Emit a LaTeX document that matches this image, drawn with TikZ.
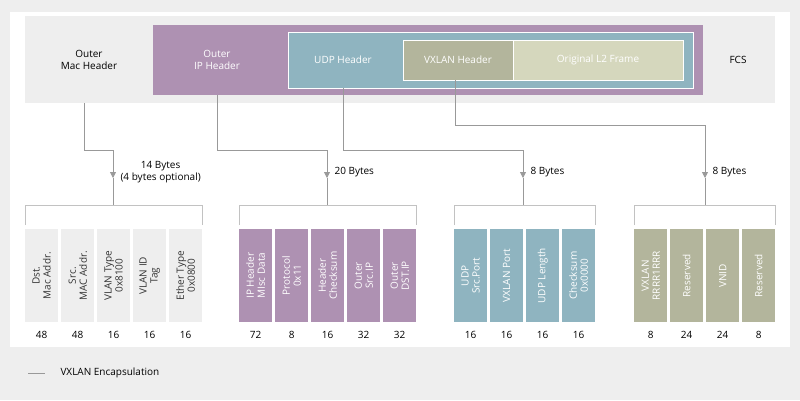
\documentclass[tikz,border=0pt]{standalone}
\usepackage{fontspec}
\setmainfont{Open Sans}
\usetikzlibrary{positioning,arrows.meta}
\definecolor{bggray}{HTML}{EEEEEE}
\definecolor{ippurple}{HTML}{AE91B2}
\definecolor{udpteal}{HTML}{8FB4C0}
\definecolor{vxolive}{HTML}{B3B59C}
\definecolor{lframe}{HTML}{D5D7BD}
\definecolor{wire}{HTML}{999999}
\tikzset{
  hdr/.style={inner sep=0pt,align=center,font=\fontsize{10}{12}\selectfont},
  fld/.style={minimum width=33pt,minimum height=93pt,inner sep=0pt,anchor=north west},
  fldtxt/.style={rotate=90,align=center,font=\fontsize{10}{11}\selectfont},
  num/.style={font=\fontsize{10}{12}\selectfont},
  wire/.style={draw=wire,line width=0.8pt},
  brace/.style={draw=wire!60,line width=1pt},
  arr/.style={wire,-{Triangle[length=6pt,width=6pt]}}
}
\begin{document}
\begin{tikzpicture}[x=1pt,y=-1pt]
\fill[bggray] (0,0) rectangle (800,400);
\fill[white] (10,12) rectangle (790,347);
% top frame
\fill[bggray] (25,16) rectangle (775,103);
\fill[ippurple] (153,25) rectangle (703,95);
\filldraw[fill=udpteal,draw=white,line width=0.8pt] (288,32) rectangle (693,88);
\filldraw[fill=vxolive,draw=white,line width=0.8pt] (403,40) rectangle (513,80);
\filldraw[fill=lframe,draw=white,line width=0.8pt] (513,40) rectangle (683,80);
\node[hdr] (mac) at (89,60) {Outer\\Mac Header};
\node[hdr,white] (ip) at (217,60) {Outer\\IP Header};
\node[hdr,white] (udp) at (343,60) {UDP Header};
\node[hdr,white] (vx) at (458,60) {VXLAN Header};
\node[hdr,white] (l2) at (598,60) {Original L2 Frame};
\node[hdr] (fcs) at (738,60) {FCS};
% connectors
\coordinate (macB) at (84,103);
\coordinate (ipB) at (217,95);
\coordinate (udpB) at (343,88);
\coordinate (vxB) at (455,80);
\coordinate (macA) at (113,178);
\coordinate (ipA) at (327,178);
\coordinate (udpA) at (523,178);
\coordinate (vxA) at (705,178);
\draw[arr] (macB) |- (113,150) -- (macA);
\draw[arr] (ipB) |- (327,150) -- (ipA);
\draw[arr] (udpB) |- (523,150) -- (udpA);
\draw[arr] (vxB) |- (705,125) -- (vxA);
\node[num,align=center,right=4pt of macA,yshift=6pt] (macL) {14 Bytes\\(4 bytes optional)};
\node[num,right=4pt of ipA,yshift=6pt] (ipL) {20 Bytes};
\node[num,right=4pt of udpA,yshift=6pt] (udpL) {8 Bytes};
\node[num,right=4pt of vxA,yshift=6pt] (vxL) {8 Bytes};
\draw[wire] (macA) -- (113,205);
\draw[wire] (ipA) -- (327,205);
\draw[wire] (udpA) -- (523,205);
\draw[wire] (vxA) -- (705,205);
\draw[brace] (25,225) |- (202,205) -- (202,225);
\draw[brace] (239,225) |- (416,205) -- (416,225);
\draw[brace] (454,225) |- (595,205) -- (595,225);
\draw[brace] (634,225) |- (775,205) -- (775,225);
% fields
\foreach \t/\n [count=\i from 0] in {Dst.\\Mac Addr./48,Src.\\MAC Addr./48,VLAN Type\\0x8100/16,VLAN ID\\Tag/16,Ether Type\\0x0800/16}{
  \node[fld,fill=bggray] (mac\i) at (25+36*\i,229) {};
  \node[fldtxt,text=black!80] at (mac\i.center) {\t};
  \node[num] at (mac\i.center |- 0,335) {\n};
}
\foreach \t/\n [count=\i from 0] in {IP Header\\MIsc Data/72,Protocol\\0x11/8,Header\\Checksum/16,Outer\\Src.IP/32,Outer\\DST.IP/32}{
  \node[fld,fill=ippurple] (ip\i) at (239+36*\i,229) {};
  \node[fldtxt,white] at (ip\i.center) {\t};
  \node[num] at (ip\i.center |- 0,335) {\n};
}
\foreach \t/\n [count=\i from 0] in {UDP\\Src.Port/16,VXLAN Port/16,UDP Length/16,Checksum\\0x0000/16}{
  \node[fld,fill=udpteal] (udp\i) at (454+36*\i,229) {};
  \node[fldtxt,white] at (udp\i.center) {\t};
  \node[num] at (udp\i.center |- 0,335) {\n};
}
\foreach \t/\n [count=\i from 0] in {VXLAN\\RRRR1RRR/8,Reserved/24,VNID/24,Reserved/8}{
  \node[fld,fill=vxolive] (vx\i) at (634+36*\i,229) {};
  \node[fldtxt,white] at (vx\i.center) {\t};
  \node[num] at (vx\i.center |- 0,335) {\n};
}
% legend
\coordinate (legA) at (28,373);
\coordinate (legB) at (45,373);
\draw[wire] (legA) -- (legB);
\node[num,anchor=west,right=12pt of legB] (leg) {VXLAN Encapsulation};
\end{tikzpicture}
\end{document}
